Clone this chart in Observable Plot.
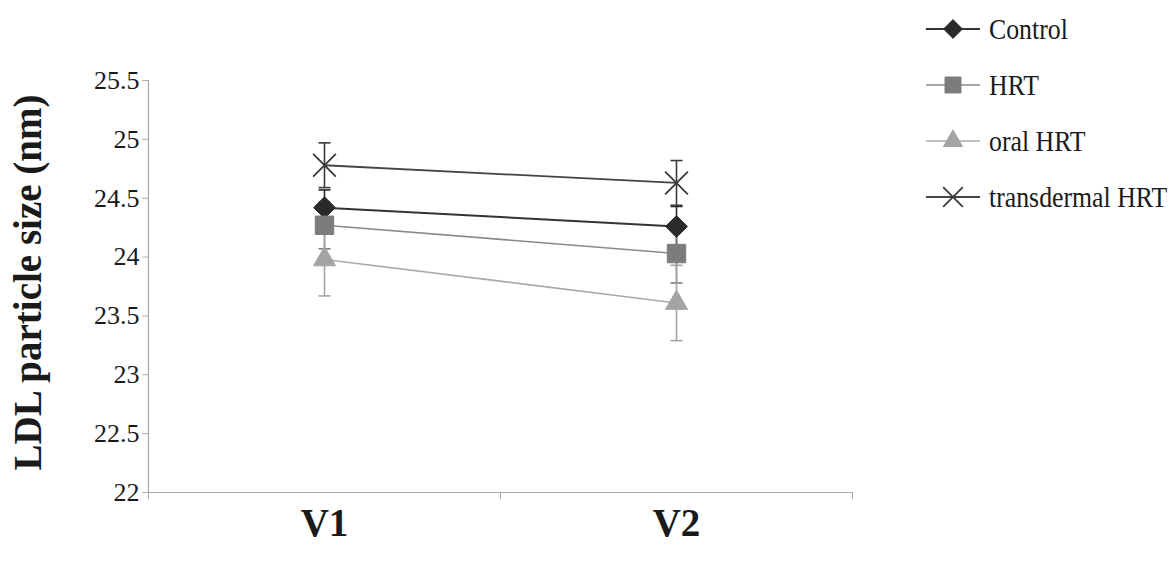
<!DOCTYPE html>
<html>
<head>
<meta charset="utf-8">
<script src="https://cdn.jsdelivr.net/npm/d3@7"></script>
<script src="https://cdn.jsdelivr.net/npm/@observablehq/plot@0.6"></script>
<style>
  html, body { margin: 0; padding: 0; background: #fff; }
  #wrap { position: relative; width: 1176px; height: 567px; font-family: "Liberation Serif", "Times New Roman", serif; }
  #wrap svg, #wrap svg text { font-family: "Liberation Serif", "Times New Roman", serif !important; }
  #legend { position: absolute; left: 920px; top: 0; }
</style>
</head>
<body>
<div id="wrap"></div>
<script>
// Visits on the x axis and treatment groups
const visits = ["V1", "V2"];
const groups = ["Control", "HRT", "oral HRT", "transdermal HRT"];

// Mean LDL particle size (nm) per group at each visit
const controlMean = [24.42, 24.26];
const hrtMean = [24.27, 24.03];
const oralMean = [23.98, 23.61];
const transdermalMean = [24.78, 24.63];

// Error bar half-widths (nm)
const controlErr = [0.15, 0.17];
const hrtErr = [0.20, 0.25];
const oralErr = [0.31, 0.32];
const transdermalErr = [0.19, 0.19];

// y axis ticks
const yTicks = [22, 22.5, 23, 23.5, 24, 24.5, 25, 25.5];

const means = {"Control": controlMean, "HRT": hrtMean, "oral HRT": oralMean, "transdermal HRT": transdermalMean};
const errs = {"Control": controlErr, "HRT": hrtErr, "oral HRT": oralErr, "transdermal HRT": transdermalErr};

// Appearance of each series
const style = {
  "Control":         {color: "#2a2a2a", line: "#333333", symbol: "diamond2", r: 9.8, fill: "#2a2a2a", width: 2},
  "HRT":             {color: "#7c7c7c", line: "#8a8a8a", symbol: "square",   r: 10.4, fill: "#7c7c7c", width: 1.6},
  "oral HRT":        {color: "#a4a4a4", line: "#aaaaaa", symbol: "triangle", r: 8.2, fill: "#a4a4a4", width: 1.6},
  "transdermal HRT": {color: "#3a3a3a", line: "#444444", symbol: "times",    r: 10.4, fill: "none", width: 1.8}
};

const rows = groups.flatMap(g => visits.map((v, i) => ({
  group: g, visit: v, pos: i + 0.5, mean: means[g][i], lo: means[g][i] - errs[g][i], hi: means[g][i] + errs[g][i]
})));

// Short horizontal stroke for error bar caps
const cap = {draw(ctx) { ctx.moveTo(-6, 0); ctx.lineTo(6, 0); }};

const font = "Liberation Serif";
const marks = [];

// error bars
for (const g of groups) {
  const d = rows.filter(r => r.group === g);
  const s = style[g];
  marks.push(Plot.ruleX(d, {x: "pos", y1: "lo", y2: "hi", stroke: s.color, strokeWidth: 1.6}));
  marks.push(Plot.dot(d, {x: "pos", y: "lo", symbol: cap, stroke: s.color, strokeWidth: 1.6, fill: "none"}));
  marks.push(Plot.dot(d, {x: "pos", y: "hi", symbol: cap, stroke: s.color, strokeWidth: 1.6, fill: "none"}));
}
// connecting lines
for (const g of groups) {
  const d = rows.filter(r => r.group === g);
  const s = style[g];
  marks.push(Plot.line(d, {x: "pos", y: "mean", stroke: s.line, strokeWidth: s.width}));
}
// markers
for (const g of groups) {
  const d = rows.filter(r => r.group === g);
  const s = style[g];
  marks.push(Plot.dot(d, {x: "pos", y: "mean", symbol: s.symbol, r: s.r, fill: s.fill, stroke: s.color, strokeWidth: s.symbol === "times" ? 1.8 : 1}));
}

const chart = Plot.plot({
  width: 1176,
  height: 567,
  marginLeft: 148,
  marginRight: 324,
  marginTop: 80,
  marginBottom: 75,
  style: {fontFamily: font, background: "#fff", color: "#1a1a1a"},
  x: {domain: [0, 2]},
  y: {domain: [22, 25.5]},
  marks: [
    Plot.ruleX([0], {stroke: "#a8a8a8", strokeWidth: 1.2}),
    Plot.ruleY([22], {stroke: "#a8a8a8", strokeWidth: 1.2}),
    Plot.axisY({ticks: yTicks, tickSize: 6, tickPadding: 3, stroke: "#b0b0b0", fill: "#1a1a1a",
      fontSize: 26, fontFamily: font, tickFormat: d => String(d), label: null}),
    Plot.axisX({ticks: [0, 1, 2], tickSize: 7, stroke: "#a8a8a8", tickFormat: () => "", label: null}),
    Plot.axisX({ticks: [0.5, 1.5], tickSize: 0, tickPadding: 16, fill: "#1a1a1a",
      fontSize: 39, fontWeight: "bold", fontFamily: font, tickFormat: d => visits[Math.floor(d)], label: null}),
    Plot.text(["LDL particle size (nm)"], {frameAnchor: "left", rotate: -90, dx: -120, dy: -4, fontSize: 39,
      fontWeight: "bold", fontFamily: font, fill: "#1a1a1a", textAnchor: "middle", lineAnchor: "middle"}),
    ...marks
  ]
});

const wrap = document.getElementById("wrap");
wrap.appendChild(chart);

// Legend on the right
const symbolTypes = {diamond2: d3.symbolDiamond2, square: d3.symbolSquare, triangle: d3.symbolTriangle, times: d3.symbolTimes};
const leg = d3.select(wrap).append("svg")
  .attr("id", "legend").attr("width", 256).attr("height", 230);
const item = leg.selectAll("g").data(groups).join("g")
  .attr("transform", (g, i) => `translate(0, ${29 + i * 56})`);
item.append("line").attr("x1", 6).attr("x2", 60).attr("y1", 0).attr("y2", 0)
  .attr("stroke", g => style[g].line).attr("stroke-width", g => style[g].width);
item.append("path")
  .attr("transform", "translate(33,0)")
  .attr("d", g => d3.symbol(symbolTypes[style[g].symbol], Math.PI * style[g].r * style[g].r * 0.75)())
  .attr("fill", g => style[g].fill)
  .attr("stroke", g => style[g].color)
  .attr("stroke-width", g => style[g].symbol === "times" ? 1.8 : 1);
item.append("text")
  .attr("transform", "translate(69,0) scale(0.86,1)")
  .attr("dy", "0.34em")
  .attr("font-family", font).attr("font-size", 30).attr("fill", "#1a1a1a")
  .text(g => g);
</script>
</body>
</html>
